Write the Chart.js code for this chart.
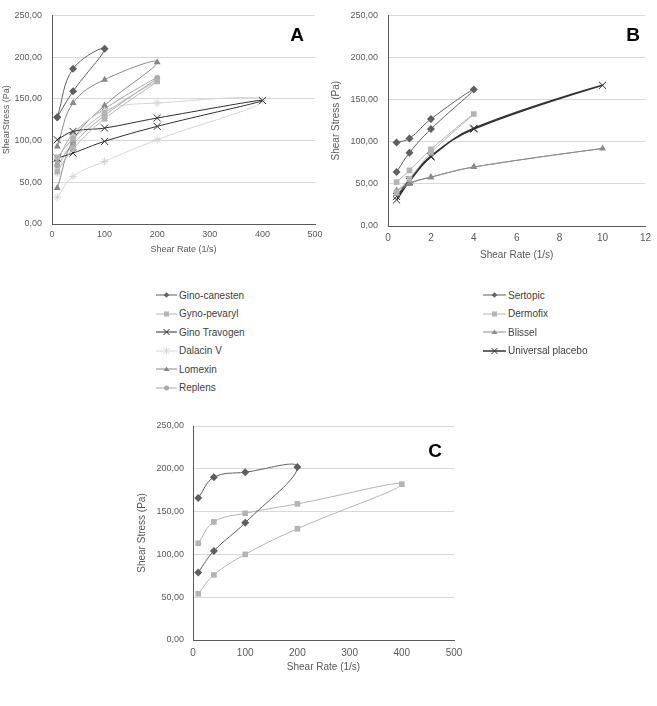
<!DOCTYPE html>
<html>
<head>
<meta charset="utf-8">
<script src="https://cdn.jsdelivr.net/npm/chart.js@4"></script>
<style>
  body { margin: 0; background: #fff; width: 657px; height: 706px; position: relative; overflow: hidden;
         font-family: "Liberation Sans", Arial, sans-serif; }
  .box { position: absolute; }
  .tag { position: absolute; font: bold 19px "Liberation Sans", Arial, sans-serif; color: #000; transform: translate(-50%, -50%); }
  .legend { position: absolute; font-size: 10px; color: #404040; }
  .legend div { height: 18.5px; display: flex; align-items: center; }
  .legend svg { margin-right: 2px; }
</style>
</head>
<body>
<div class="box" style="left:0;top:0;width:330px;height:265px"><canvas id="chartA"></canvas></div>
<div class="box" style="left:330px;top:0;width:327px;height:266px"><canvas id="chartB"></canvas></div>
<div class="box" style="left:130px;top:400px;width:340px;height:285px"><canvas id="chartC"></canvas></div>
<div class="tag" style="left:297px;top:35px">A</div>
<div class="tag" style="left:633px;top:35px">B</div>
<div class="tag" style="left:435px;top:451px">C</div>
<div class="legend" id="legendA" style="left:156px;top:286px"></div>
<div class="legend" id="legendB" style="left:483px;top:286px"></div>

<script>
// ---- panel A (shear rate 10-400 1/s), each loop: up curve then down curve ----
const canestenX = [10, 40, 100, 40, 10];
const canestenY = [128, 159, 210, 186, 128];
const pevarylX = [10, 40, 100, 200, 100, 40, 10];
const pevarylY = [63, 90, 126, 171, 133, 102, 80];
const travogenX = [10, 40, 100, 200, 400, 200, 100, 40, 10];
const travogenY = [79, 85, 99, 117, 148, 127, 115, 111, 101];
const dalacinX = [10, 40, 100, 200, 400, 200, 100, 40, 10];
const dalacinY = [32, 57, 75, 101, 148, 145, 136, 104, 60];
const lomexinX = [10, 40, 100, 200, 100, 40, 10];
const lomexinY = [43, 100, 142, 194, 173, 145, 93];
const replensX = [10, 40, 100, 200, 100, 40, 10];
const replensY = [70, 96, 130, 175, 138, 108, 76];

// ---- panel B (shear rate 0.4-10 1/s) ----
const sertopicX = [0.4, 1, 2, 4, 2, 1, 0.4];
const sertopicY = [64, 87, 115, 162, 127, 104, 99];
const dermofixX = [0.4, 1, 2, 4, 2, 1, 0.4];
const dermofixY = [40, 56, 87, 133, 91, 66, 52];
const blisselX = [0.4, 1, 2, 4, 10, 4, 2, 1, 0.4];
const blisselY = [38, 50, 58, 70, 92, 70, 58, 51, 42];
const placeboX = [0.4, 1, 2, 4, 10, 4, 2, 1, 0.4];
const placeboY = [31, 53, 82, 116, 167, 115, 83, 55, 35];

// ---- panel C ----
const cDarkX = [10, 40, 100, 200, 100, 40, 10];
const cDarkY = [79, 104, 137, 202, 196, 190, 166];
const cLightX = [10, 40, 100, 200, 400, 200, 100, 40, 10];
const cLightY = [54, 76, 100, 130, 182, 159, 148, 138, 113];

const yTicks = [0, 50, 100, 150, 200, 250];
const TEXT = '#595959';

function pts(xs, ys) {
  return xs.map((x, i) => ({ x: x, y: ys[i] }));
}

function series(label, xs, ys, color, style, radius, width) {
  return {
    label: label,
    data: pts(xs, ys),
    showLine: true,
    borderColor: color,
    backgroundColor: color,
    borderWidth: width || 1,
    tension: 0.4,
    pointStyle: style,
    pointRadius: radius,
    pointBorderColor: color,
    pointBackgroundColor: color,
    pointBorderWidth: style === 'crossRot' || style === 'star' ? 1 : 0
  };
}

// fixed box sizes so the plot areas land where the figure has them
function makeChart(id, datasets, o) {
  return new Chart(document.getElementById(id), {
    type: 'scatter',
    data: { datasets: datasets },
    options: {
      responsive: true,
      maintainAspectRatio: false,
      animation: false,
      layout: { padding: { top: o.top, right: o.right, left: 0, bottom: 0 } },
      plugins: { legend: { display: false }, tooltip: { enabled: false } },
      scales: {
        x: {
          type: 'linear', min: 0, max: o.xMax,
          afterFit: s => { s.height = o.xH; },
          grid: { display: false, drawTicks: false },
          border: { color: '#5a5a5a', width: 1 },
          ticks: { stepSize: o.xStep, color: TEXT, font: { size: o.fs }, padding: o.xPad },
          title: { display: true, text: 'Shear Rate (1/s)', color: TEXT, font: { size: o.fs },
                   padding: { top: 0, bottom: o.xTitlePad } }
        },
        y: {
          min: 0, max: 250,
          afterFit: s => { s.width = o.yW; },
          afterBuildTicks: s => { s.ticks = yTicks.map(v => ({ value: v })); },
          grid: { color: '#d9d9d9', drawTicks: false },
          border: { color: '#5a5a5a', width: 1 },
          ticks: { color: TEXT, font: { size: 9 }, padding: o.yPad,
                   callback: v => v.toFixed(2).replace('.', ',') },
          title: { display: true, text: o.yTitle, color: TEXT, font: { size: o.fs },
                   padding: { top: o.yTitlePad, bottom: 0 } }
        }
      }
    }
  });
}

const setA = [
  series('Gino-canesten', canestenX, canestenY, '#5f5f5f', 'rectRot', 4),
  series('Gyno-pevaryl', pevarylX, pevarylY, '#b4b4b4', 'rect', 4),
  series('Gino Travogen', travogenX, travogenY, '#2e2e2e', 'crossRot', 5),
  series('Dalacin V', dalacinX, dalacinY, '#d6d6d6', 'star', 4),
  series('Lomexin', lomexinX, lomexinY, '#888888', 'triangle', 4),
  series('Replens', replensX, replensY, '#a8a8a8', 'circle', 3)
];
const setB = [
  series('Sertopic', sertopicX, sertopicY, '#5f5f5f', 'rectRot', 4),
  series('Dermofix', dermofixX, dermofixY, '#b4b4b4', 'rect', 4),
  series('Blissel', blisselX, blisselY, '#8c8c8c', 'triangle', 4),
  series('Universal placebo', placeboX, placeboY, '#333333', 'crossRot', 5, 1.5)
];
const setC = [
  series('Gino-canesten', cDarkX, cDarkY, '#5f5f5f', 'rectRot', 4),
  series('Gyno-pevaryl', cLightX, cLightY, '#b4b4b4', 'rect', 4)
];

makeChart('chartA', setA, { top: 9, right: 15, xMax: 500, xStep: 100, xH: 41, yW: 52, fs: 9,
  xPad: 5, xTitlePad: 10, yPad: 10, yTitlePad: 1, yTitle: 'ShearStress (Pa)' });
makeChart('chartB', setB, { top: 10, right: 6, xMax: 12, xStep: 2, xH: 40, yW: 58, fs: 10,
  xPad: 6, xTitlePad: 5, yPad: 10, yTitlePad: 0, yTitle: 'Shear Stress (Pa)' });
makeChart('chartC', setC, { top: 26, right: 16, xMax: 500, xStep: 100, xH: 45, yW: 63, fs: 10,
  xPad: 7, xTitlePad: 12, yPad: 9, yTitlePad: 6, yTitle: 'Shear Stress (Pa)' });

// legend lists under A and B
function marker(style, c) {
  if (style === 'rectRot') return `<rect x="9" y="3" width="4" height="4" fill="${c}" transform="rotate(45 11 5)"/>`;
  if (style === 'rect') return `<rect x="8.5" y="2.5" width="5" height="5" fill="${c}"/>`;
  if (style === 'triangle') return `<path d="M11 2.5 L14 7 L8 7 Z" fill="${c}"/>`;
  if (style === 'circle') return `<circle cx="11" cy="5" r="2.5" fill="${c}"/>`;
  if (style === 'star') return `<path d="M8 2 L14 8 M14 2 L8 8 M11 1.5 V8.5" stroke="${c}" stroke-width="1"/>`;
  return `<path d="M8 2 L14 8 M14 2 L8 8" stroke="${c}" stroke-width="1"/>`;
}
function buildLegend(id, set, w) {
  document.getElementById(id).innerHTML = set.map(d =>
    `<div><svg width="${w}" height="10"><line x1="0" y1="5" x2="${w}" y2="5" stroke="${d.borderColor}" stroke-width="${d.borderWidth > 1 ? 1.5 : 1}"/>` +
    `<g transform="translate(${w / 2 - 11},0)">${marker(d.pointStyle, d.borderColor)}</g></svg>${d.label}</div>`
  ).join('');
}
buildLegend('legendA', setA, 21);
buildLegend('legendB', setB, 23);
</script>
</body>
</html>
